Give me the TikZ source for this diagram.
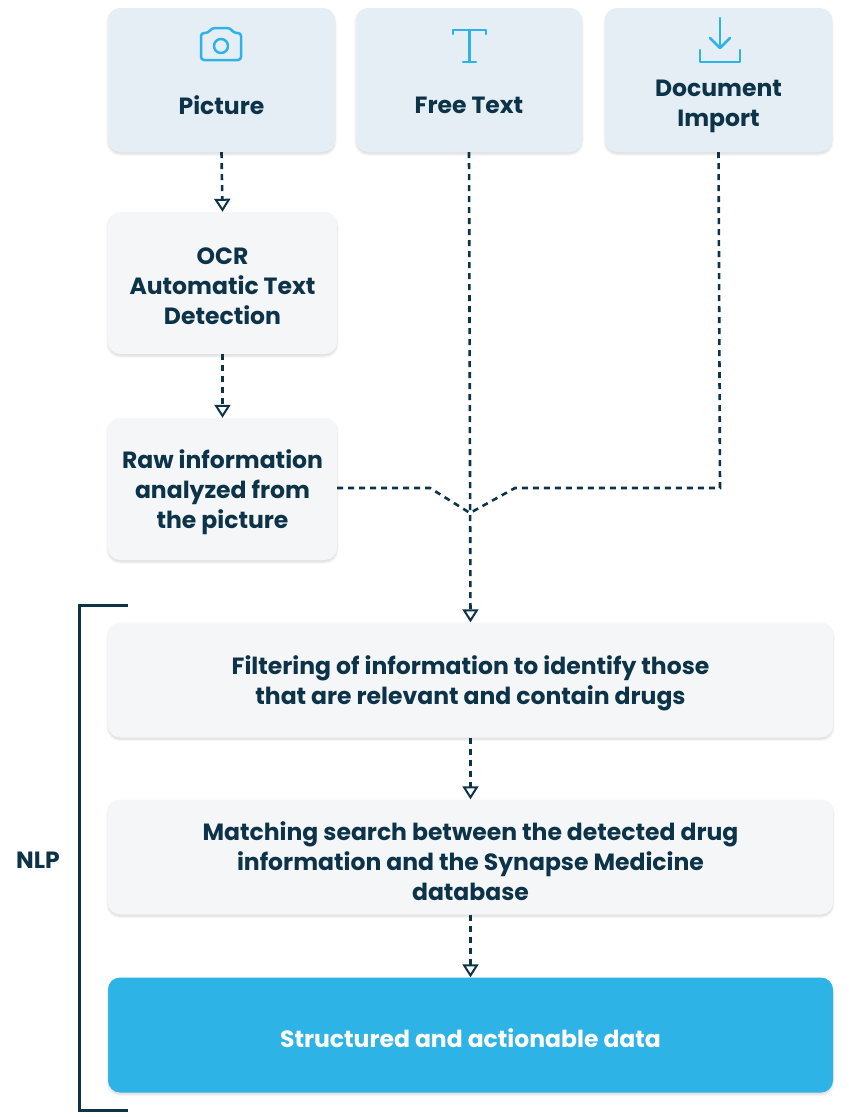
\documentclass[tikz,border=0pt]{standalone}
\usepackage{fontspec}
\setmainfont{Poppins}
\usetikzlibrary{arrows.meta,shadows.blur}
\definecolor{navy}{HTML}{0D3349}
\definecolor{topf}{HTML}{E6EEF5}
\definecolor{grayf}{HTML}{F5F6F7}
\definecolor{cyanf}{HTML}{2EB3E6}
\definecolor{icon}{HTML}{2EB3E6}
\begin{document}
\begin{tikzpicture}[x=1pt,y=-1pt,
  txt/.style={font=\fontsize{23.5}{30}\selectfont\bfseries,text=navy,align=center},
  box/.style={txt,draw=none,rounded corners=12pt,inner sep=0pt,blur shadow={shadow blur steps=6,shadow xshift=0pt,shadow yshift=-2pt,shadow opacity=15}},
  top/.style={box,fill=topf},
  gr/.style={box,fill=grayf},
  con/.style={draw=navy,line width=2.6pt,dash pattern=on 6pt off 5pt,-{Triangle[open,length=13pt,width=16pt,line width=2pt]}},
  ln/.style={draw=navy,line width=2.6pt,dash pattern=on 6pt off 5pt}]
\useasboundingbox (0,0) rectangle (849,1117);
\node[top,minimum width=227pt,minimum height=144pt] (pic) at (221.5,80) {};
\node[top,minimum width=226pt,minimum height=144pt] (ft) at (469,80) {};
\node[top,minimum width=227pt,minimum height=144pt] (di) at (718.5,80) {};
\node[txt] (picl) at (221.5,105) {Picture};
\node[txt] (ftl) at (469,105) {Free Text};
\node[txt] (dil) at (718.5,106) {Document\\Import};
% icons
\begin{scope}[draw=icon,line width=2.5pt,line cap=round,line join=round]
\draw[rounded corners=3pt] (201,33) -- (208,33) -- (212,28) -- (230,28) -- (234,33) -- (241,33) -- (241,60) -- (201,60) -- cycle;
\draw (221,46) circle (7pt);
\draw (453,30) -- (453,34); \draw (453,30)--(486,30)--(486,34); \draw (469.5,30)--(469.5,62); \draw (463,62)--(476,62);
\draw (720,18)--(720,47); \draw (710,38)--(720,48)--(730,38); \draw (700,50)--(700,62)--(740,62)--(740,50);
\end{scope}
\node[gr,minimum width=229pt,minimum height=142pt] (ocr) at (222.5,283) {};
\node[txt] (ocrl) at (222.5,286) {OCR\\Automatic Text\\Detection};
\node[gr,minimum width=229pt,minimum height=142pt] (raw) at (222.5,489) {};
\node[txt] (rawl) at (222.5,492) {Raw information\\analyzed from\\the picture};
\node[gr,minimum width=725pt,minimum height=115pt] (fil) at (470.5,680) {};
\node[txt] (fill) at (470.5,683) {Filtering of information to identify those\\that are relevant and contain drugs};
\node[gr,minimum width=725pt,minimum height=115pt] (mat) at (470.5,857) {};
\node[txt] (matl) at (470.5,861) {Matching search between the detected drug\\information and the Synapse Medicine\\database};
\node[box,fill=cyanf,text=white,minimum width=725pt,minimum height=115pt] (str) at (470.5,1035) {};
\node[txt,text=white] (strl) at (470.5,1038) {Structured and actionable data};
\coordinate (m) at (470,513);
\draw[con] (pic.south) -- (ocr.north);
\draw[con] (ocr.south) -- (raw.north);
\draw[ln] (raw.east |- 0,488) -- (430,488) -- (m);
\draw[ln] (di.south) -- (720,488) -- (515,488) -- (m);
\draw[con] (ft.south) -- (fil.north);
\draw[con] (fil.south) -- (mat.north);
\draw[con] (mat.south) -- (str.north);
\draw[navy,line width=3pt] (128,605) -- (79,605) -- (79,1110) -- (128,1110);
\node[txt] (nlp) at (38,860) {NLP};
\end{tikzpicture}
\end{document}
